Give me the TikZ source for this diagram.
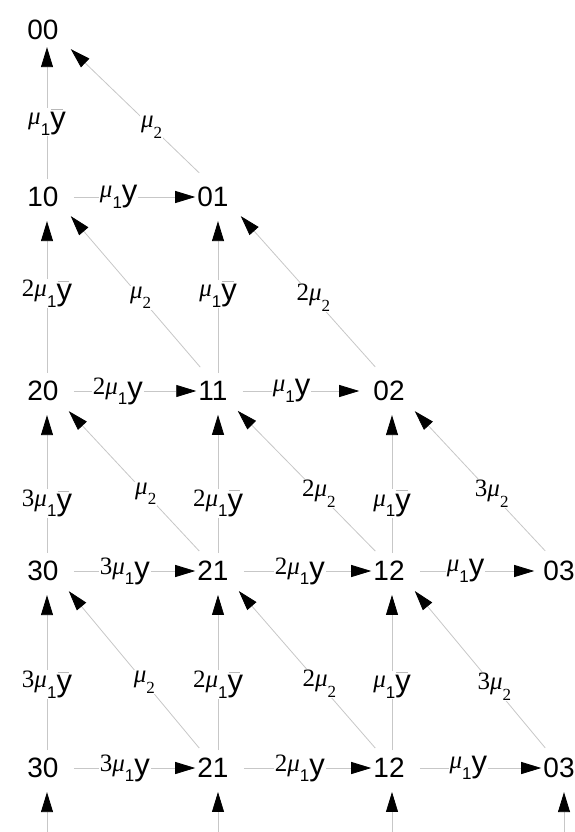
\documentclass[tikz,border=0pt]{standalone}
\usepackage{fontspec}
\newfontfamily\lsans{Liberation Sans}
\newfontfamily\lserif{Liberation Serif}
\usetikzlibrary{arrows.meta}
\definecolor{edgec}{gray}{0.78}
\definecolor{barc}{gray}{0.72}
\newcommand\labfont{\lserif\fontsize{25}{27}\selectfont}
\newcommand\ysize{\lsans\fontsize{31}{33}\selectfont}
\newcommand\sub[1]{\raisebox{-0.42em}{\fontsize{17}{19}\selectfont #1}}
\newcommand\mmu{{\itshape μ}}
\newcommand\yy{\raisebox{-4pt}{\ysize y}}
\newcommand\yb{\raisebox{-4pt}{\ysize\rlap{\hspace{0.04em}\textcolor{barc}{\rule[0.62em]{0.36em}{0.6pt}}}y}}
\newcommand\vl[1]{{\labfont #1\mmu\sub{\lsans 1}\yb}}
\newcommand\hl[1]{{\labfont #1\mmu\sub{\lsans 1}\yy}}
\newcommand\dl[1]{{\labfont #1\mmu\sub{2}}}
\tikzset{
  state/.style={font={\lsans\fontsize{28}{30}\selectfont}, inner sep=0pt},
  lab/.style={fill=white, inner sep=1pt},
  conn/.style={draw=edgec, line width=0.8pt, -{Triangle[length=20pt,width=12pt,color=black]}},
}
\begin{document}
\begin{tikzpicture}[x=1pt,y=-1pt]
\useasboundingbox (0,0) rectangle (575,832);
% states
\node[state] (n00) at (43,30) {00};
\node[state] (n10) at (43,197) {10};
\node[state] (n01) at (213,197) {01};
\node[state] (n20) at (43,391) {20};
\node[state] (n11) at (213,391) {11};
\node[state] (n02) at (389,391) {02};
\node[state] (m30) at (43,571) {30};
\node[state] (m21) at (213,571) {21};
\node[state] (m12) at (389,571) {12};
\node[state] (m03) at (559,571) {03};
\node[state] (p30) at (43,768) {30};
\node[state] (p21) at (213,768) {21};
\node[state] (p12) at (389,768) {12};
\node[state] (p03) at (559,768) {03};
\coordinate (b1) at (47,832);
\coordinate (b2) at (218,832);
\coordinate (b3) at (392,832);
\coordinate (b4) at (564,832);
% horizontal edges
\draw[conn] ([xshift=15pt]n10.east) -- node[lab,pos=0.37]{\hl{}} ([xshift=-2pt]n01.west);
\draw[conn] ([xshift=15pt]n20.east) -- node[lab,pos=0.36]{\hl{2}} ([xshift=-2pt]n11.west);
\draw[conn] ([xshift=15pt]n11.east) -- node[lab,pos=0.42]{\hl{}} ([xshift=-14pt]n02.west);
\draw[conn] ([xshift=15pt]m30.east) -- node[lab,pos=0.42]{\hl{3}} ([xshift=-2pt]m21.west);
\draw[conn] ([xshift=15pt]m21.east) -- node[lab,pos=0.44]{\hl{2}} ([xshift=-2pt]m12.west);
\draw[conn] ([xshift=15pt]m12.east) -- node[lab,pos=0.4]{\hl{}} ([xshift=-9pt]m03.west);
\draw[conn] ([xshift=15pt]p30.east) -- node[lab,pos=0.42]{\hl{3}} ([xshift=-2pt]p21.west);
\draw[conn] ([xshift=15pt]p21.east) -- node[lab,pos=0.44]{\hl{2}} ([xshift=-2pt]p12.west);
\draw[conn] ([xshift=15pt]p12.east) -- node[lab,pos=0.4]{\hl{}} ([xshift=-2pt]p03.west);
% vertical edges
\draw[conn] ([xshift=4pt,yshift=8pt]n10.north) -- node[lab,pos=0.43]{\vl{}} ([xshift=4pt,yshift=-7pt]n00.south);
\draw[conn] ([xshift=4pt,yshift=8pt]n20.north) -- node[lab,pos=0.52]{\vl{2}} ([xshift=4pt,yshift=-14pt]n10.south);
\draw[conn] ([xshift=5pt,yshift=8pt]n11.north) -- node[lab,pos=0.52]{\vl{}} ([xshift=5pt,yshift=-14pt]n01.south);
\draw[conn] ([xshift=4pt,yshift=8pt]m30.north) -- node[lab,pos=0.36]{\vl{3}} ([xshift=4pt,yshift=-14pt]n20.south);
\draw[conn] ([xshift=5pt,yshift=8pt]m21.north) -- node[lab,pos=0.36]{\vl{2}} ([xshift=5pt,yshift=-14pt]n11.south);
\draw[conn] ([xshift=3pt,yshift=8pt]m12.north) -- node[lab,pos=0.36]{\vl{}} ([xshift=3pt,yshift=-14pt]n02.south);
\draw[conn] ([xshift=4pt,yshift=8pt]p30.north) -- node[lab,pos=0.42]{\vl{3}} ([xshift=4pt,yshift=-14pt]m30.south);
\draw[conn] ([xshift=5pt,yshift=8pt]p21.north) -- node[lab,pos=0.42]{\vl{2}} ([xshift=5pt,yshift=-14pt]m21.south);
\draw[conn] ([xshift=3pt,yshift=8pt]p12.north) -- node[lab,pos=0.42]{\vl{}} ([xshift=3pt,yshift=-14pt]m12.south);
% diagonal edges
\draw[conn] ([shift={(2pt,14pt)}]n01.north west) -- node[lab,pos=0.37]{\dl{}} ([shift={(12pt,-9pt)}]n00.south east);
\draw[conn] ([shift={(2pt,14pt)}]n11.north west) -- node[lab,pos=0.46]{\dl{}} ([shift={(12pt,-9pt)}]n10.south east);
\draw[conn] ([shift={(2pt,14pt)}]n02.north west) -- node[lab,pos=0.46]{\dl{2}} ([shift={(12pt,-9pt)}]n01.south east);
\draw[conn] ([shift={(2pt,10pt)}]m21.north west) -- node[lab,pos=0.41]{\dl{}} ([shift={(10pt,-10pt)}]n20.south east);
\draw[conn] ([shift={(2pt,10pt)}]m12.north west) -- node[lab,pos=0.41]{\dl{2}} ([shift={(10pt,-10pt)}]n11.south east);
\draw[conn] ([shift={(2pt,10pt)}]m03.north west) -- node[lab,pos=0.41]{\dl{3}} ([shift={(10pt,-10pt)}]n02.south east);
\draw[conn] ([shift={(2pt,10pt)}]p21.north west) -- node[lab,pos=0.42]{\dl{}} ([shift={(10pt,-10pt)}]m30.south east);
\draw[conn] ([shift={(2pt,10pt)}]p12.north west) -- node[lab,pos=0.41]{\dl{2}} ([shift={(10pt,-10pt)}]m21.south east);
\draw[conn] ([shift={(2pt,10pt)}]p03.north west) -- node[lab,pos=0.39]{\dl{3}} ([shift={(10pt,-10pt)}]m12.south east);
% stubs from below
\draw[conn] (b1) -- ([xshift=4pt,yshift=-14pt]p30.south);
\draw[conn] (b2) -- ([xshift=5pt,yshift=-14pt]p21.south);
\draw[conn] (b3) -- ([xshift=3pt,yshift=-14pt]p12.south);
\draw[conn] (b4) -- ([xshift=5pt,yshift=-14pt]p03.south);
\end{tikzpicture}
\end{document}
